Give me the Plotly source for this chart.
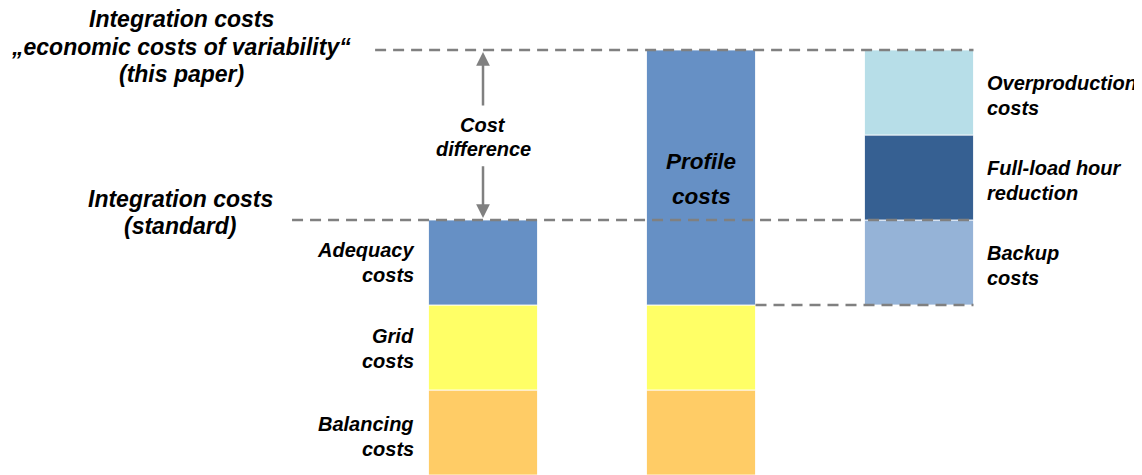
import plotly.graph_objects as go

# ---------------- data ----------------
bar_positions = [0, 1, 2]          # standard | this paper | profile-cost split
balancing_costs = [1.0, 1.0]       # bars 0 and 1
grid_costs = [1.0, 1.0]            # bars 0 and 1
adequacy_costs = [1.0]             # bar 0
profile_costs = [3.0]              # bar 1
backup_costs = [1.0]               # bar 2
full_load_hour_reduction = [1.0]   # bar 2
overproduction_costs = [1.0]       # bar 2

segment_labels = {
    "Balancing": ["Balancing", "costs"],
    "Grid": ["Grid", "costs"],
    "Adequacy": ["Adequacy", "costs"],
    "Profile": ["Profile", "costs"],
    "Backup": ["Backup", "costs"],
    "FLH": ["Full-load hour", "reduction"],
    "Overproduction": ["Overproduction", "costs"],
}
title_this_paper = ["Integration costs", "\u201eeconomic costs of variability\u201c", "(this paper)"]
title_standard = ["Integration costs", "(standard)"]
cost_difference_label = ["Cost", "difference"]

colors = {
    "Balancing": "#FFCC66",
    "Grid": "#FFFF66",
    "Adequacy": "#6690C5",
    "Profile": "#6690C5",
    "Backup": "#95B3D7",
    "FLH": "#366092",
    "Overproduction": "#B7DEE8",
}

FONT = "Liberation Sans, Arial, sans-serif"
BAR_W = 0.5

# ---------------- derived stacks ----------------
x0, x1, x2 = bar_positions
b0_grid_base = balancing_costs[0]
b0_adeq_base = balancing_costs[0] + grid_costs[0]
b0_total = b0_adeq_base + adequacy_costs[0]
b1_grid_base = balancing_costs[1]
b1_prof_base = balancing_costs[1] + grid_costs[1]
b1_total = b1_prof_base + profile_costs[0]
b2_backup_base = b1_prof_base
b2_flh_base = b2_backup_base + backup_costs[0]
b2_over_base = b2_flh_base + full_load_hour_reduction[0]

segments = [
    ("Balancing", [x0, x1], balancing_costs, [0, 0]),
    ("Grid", [x0, x1], grid_costs, [b0_grid_base, b1_grid_base]),
    ("Adequacy", [x0], adequacy_costs, [b0_adeq_base]),
    ("Profile", [x1], profile_costs, [b1_prof_base]),
    ("Backup", [x2], backup_costs, [b2_backup_base]),
    ("FLH", [x2], full_load_hour_reduction, [b2_flh_base]),
    ("Overproduction", [x2], overproduction_costs, [b2_over_base]),
]

fig = go.Figure()
for name, xs, vals, bases in segments:
    fig.add_trace(go.Bar(
        x=xs, y=vals, base=bases, width=BAR_W, name=name,
        marker=dict(color=colors[name], line=dict(color="rgba(255,255,255,0.8)", width=1)),
        hoverinfo="skip",
    ))

# ---------------- dashed reference lines ----------------
dash = dict(color="#808080", width=2.5, dash="11px,7px")
right_edge = x2 + BAR_W / 2
shapes = [
    dict(type="line", xref="x", yref="y", x0=-0.495, x1=right_edge, y0=b1_total, y1=b1_total, line=dash, layer="above"),
    dict(type="line", xref="x", yref="y", x0=-0.876, x1=right_edge, y0=b0_total, y1=b0_total, line=dash, layer="above"),
    dict(type="line", xref="x", yref="y", x0=x1 + BAR_W / 2, x1=right_edge, y0=b2_backup_base, y1=b2_backup_base, line=dash, layer="above"),
]

# ---------------- annotations ----------------
ann = []


def add_lines(lines, x, y, size, spacing, xanchor="center", xshift=0, yshift=0):
    n = len(lines)
    for i, line in enumerate(lines):
        off = ((n - 1) / 2 - i) * spacing + yshift
        ann.append(dict(x=x, y=y, xref="x", yref="y", xshift=xshift, yshift=off,
                        text="<b><i>%s</i></b>" % line, showarrow=False,
                        xanchor=xanchor, yanchor="middle", align=xanchor,
                        font=dict(family=FONT, size=size, color="#000000")))


# left-side labels of bar 0
for name, base, val, ys in [("Balancing", 0, balancing_costs[0], -4),
                            ("Grid", b0_grid_base, grid_costs[0], -1),
                            ("Adequacy", b0_adeq_base, adequacy_costs[0], 0)]:
    add_lines(segment_labels[name], x0 - BAR_W / 2, base + val / 2, 20, 25,
              xanchor="right", xshift=-13, yshift=ys)
# right-side labels of bar 2
for name, base, val in [("Backup", b2_backup_base, backup_costs[0]),
                        ("FLH", b2_flh_base, full_load_hour_reduction[0]),
                        ("Overproduction", b2_over_base, overproduction_costs[0])]:
    add_lines(segment_labels[name], x2 + BAR_W / 2, base + val / 2, 20, 25,
              xanchor="left", xshift=12, yshift=-3)
# profile costs inside bar 1
add_lines(segment_labels["Profile"], x1, b1_prof_base + profile_costs[0] / 2, 22.5, 35, yshift=-2)
# titles on the left
add_lines(title_this_paper, -1.385, b1_total, 23, 27.5, yshift=3)
add_lines(title_standard, -1.39, b0_total, 23, 27, yshift=7.5)
# cost difference with arrows
mid = (b0_total + b1_total) / 2
add_lines(cost_difference_label, x0, mid, 20, 24, yshift=-2)
arrow_style = dict(showarrow=True, arrowhead=2, arrowsize=1.1, arrowwidth=2.5,
                   arrowcolor="#808080", standoff=2, text="", xref="x", yref="y",
                   axref="x", ayref="y")
ann.append(dict(x=x0, y=b1_total, ax=x0, ay=mid + 0.33, **arrow_style))
ann.append(dict(x=x0, y=b0_total, ax=x0, ay=mid - 0.35, **arrow_style))

# page body has an 8px margin, so the figure is 8px smaller than the window
fig.update_layout(
    width=1134, height=467,
    margin=dict(l=0, r=0, t=0, b=0),
    paper_bgcolor="white", plot_bgcolor="white",
    barmode="overlay", showlegend=False,
    xaxis=dict(range=[-2.179, 3.023], visible=False, fixedrange=True),
    yaxis=dict(range=[0, 5.494], visible=False, fixedrange=True),
    shapes=shapes, annotations=ann,
)

fig.write_html("out.html")
